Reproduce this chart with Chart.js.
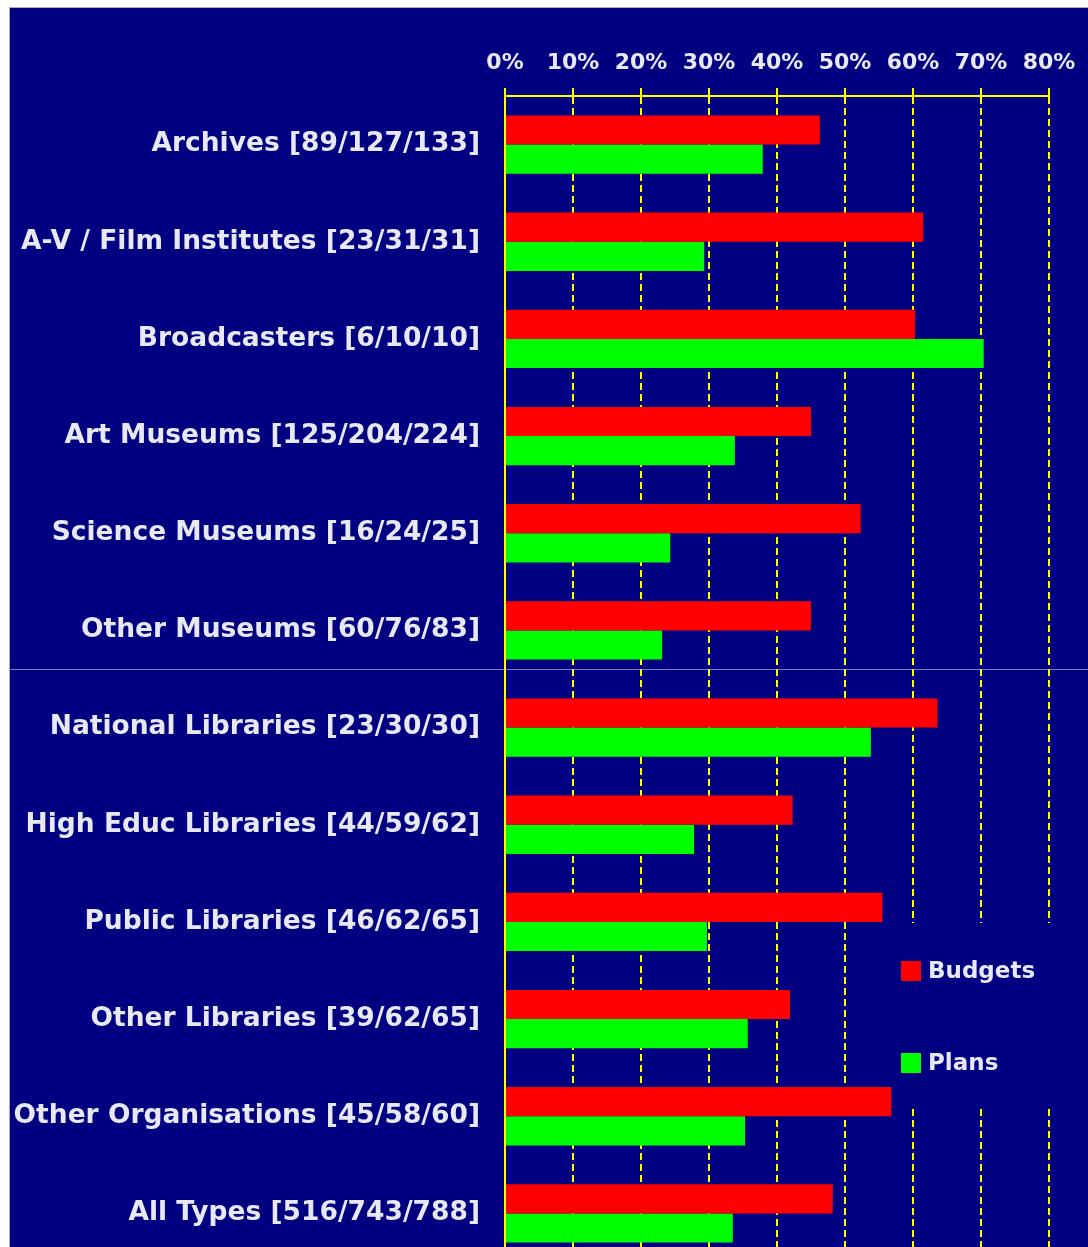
<!DOCTYPE html>
<html lang="en">
<head>
    <meta charset="UTF-8">
    <title>Budgets and Plans by Institution Type</title>
    <script src="https://cdn.jsdelivr.net/npm/chart.js@4.4.0/dist/chart.umd.min.js"></script>
    <style>
        html, body {
            margin: 0;
            padding: 0;
            background: #ffffff;
            overflow: hidden;
        }

        #frame {
            position: absolute;
            left: 9px;
            top: 7px;
            border-left: 1px solid #a8a8d0;
            border-top: 1px solid #a8a8d0;
        }

        #grafico {
            display: block;
            background: #000080;
        }
    </style>
</head>
<body>
    <div id="frame">
        <canvas id="grafico" width="1078" height="1254"></canvas>
    </div>

    <script>
        const categories = [
            'Archives [89/127/133]',
            'A-V / Film Institutes [23/31/31]',
            'Broadcasters [6/10/10]',
            'Art Museums [125/204/224]',
            'Science Museums [16/24/25]',
            'Other Museums [60/76/83]',
            'National Libraries [23/30/30]',
            'High Educ Libraries [44/59/62]',
            'Public Libraries [46/62/65]',
            'Other Libraries [39/62/65]',
            'Other Organisations [45/58/60]',
            'All Types [516/743/788]'
        ];
        const budgets = [46.3, 61.5, 60.3, 45.0, 52.3, 45.0, 63.6, 42.3, 55.5, 41.9, 56.8, 48.2];
        const plans = [37.9, 29.3, 70.4, 33.8, 24.3, 23.1, 53.8, 27.8, 29.7, 35.7, 35.3, 33.5];
        const xTicks = [0, 10, 20, 30, 40, 50, 60, 70, 80];

        const TEXT = '#e8e8f2';
        const YELLOW = '#ffff00';
        const NAVY = '#000080';

        // legend drawn inside the plot, on a navy patch that hides the grid
        const legendInPlot = {
            id: 'legendInPlot',
            beforeDatasetsDraw(chart) {
                const ctx = chart.ctx;
                ctx.save();
                ctx.fillStyle = NAVY;
                ctx.fillRect(883, 915, 170, 185);
                ctx.font = 'bold 23px "DejaVu Sans"';
                ctx.textBaseline = 'middle';
                chart.data.datasets.forEach((ds, i) => {
                    const y = 963 + i * 92;
                    ctx.fillStyle = ds.backgroundColor;
                    ctx.fillRect(891, y - 10, 20, 20);
                    ctx.fillStyle = TEXT;
                    ctx.fillText(ds.label, 918, y + 1);
                });
                ctx.restore();
            },
            afterDraw(chart) {
                // faint seam line across the picture
                const ctx = chart.ctx;
                ctx.save();
                ctx.strokeStyle = 'rgba(200,200,225,0.6)';
                ctx.lineWidth = 1;
                ctx.beginPath();
                ctx.moveTo(0, 661.5);
                ctx.lineTo(chart.width, 661.5);
                ctx.stroke();
                ctx.restore();
            }
        };

        new Chart(document.getElementById('grafico'), {
            type: 'bar',
            data: {
                labels: categories,
                datasets: [
                    { label: 'Budgets', data: budgets, backgroundColor: '#ff0000' },
                    { label: 'Plans', data: plans, backgroundColor: '#00ff00' }
                ]
            },
            options: {
                indexAxis: 'y',
                responsive: false,
                animation: false,
                categoryPercentage: 0.6,
                barPercentage: 1.0,
                layout: {
                    padding: { left: 0, right: 39, top: 0, bottom: 0 }
                },
                plugins: {
                    legend: { display: false },
                    tooltip: { enabled: false }
                },
                scales: {
                    x: {
                        position: 'top',
                        min: 0,
                        max: 80,
                        afterBuildTicks: (s) => { s.ticks = xTicks.map(v => ({ value: v })); },
                        afterFit: (s) => { s.height = 88; },
                        ticks: {
                            color: TEXT,
                            padding: 12,
                            font: { family: 'DejaVu Sans', size: 22, weight: 'bold' },
                            callback: (v) => v + '%'
                        },
                        grid: {
                            color: YELLOW,
                            lineWidth: 2,
                            tickLength: 8,
                            tickColor: YELLOW,
                            tickWidth: 2,
                            tickBorderDash: []
                        },
                        border: {
                            display: true,
                            color: YELLOW,
                            width: 2,
                            dash: [7, 4]
                        }
                    },
                    y: {
                        afterFit: (s) => {
                            s.width = 495;
                            s.paddingTop = 0;
                            s.paddingBottom = 0;
                        },
                        ticks: {
                            color: TEXT,
                            padding: 0,
                            font: { family: 'DejaVu Sans', size: 26.5, weight: 'bold' }
                        },
                        grid: {
                            display: true,
                            drawOnChartArea: false,
                            drawTicks: true,
                            tickLength: 25,
                            tickColor: 'rgba(0,0,0,0)'
                        },
                        border: { display: true, color: YELLOW, width: 2 }
                    }
                }
            },
            plugins: [legendInPlot]
        });
    </script>
</body>
</html>
